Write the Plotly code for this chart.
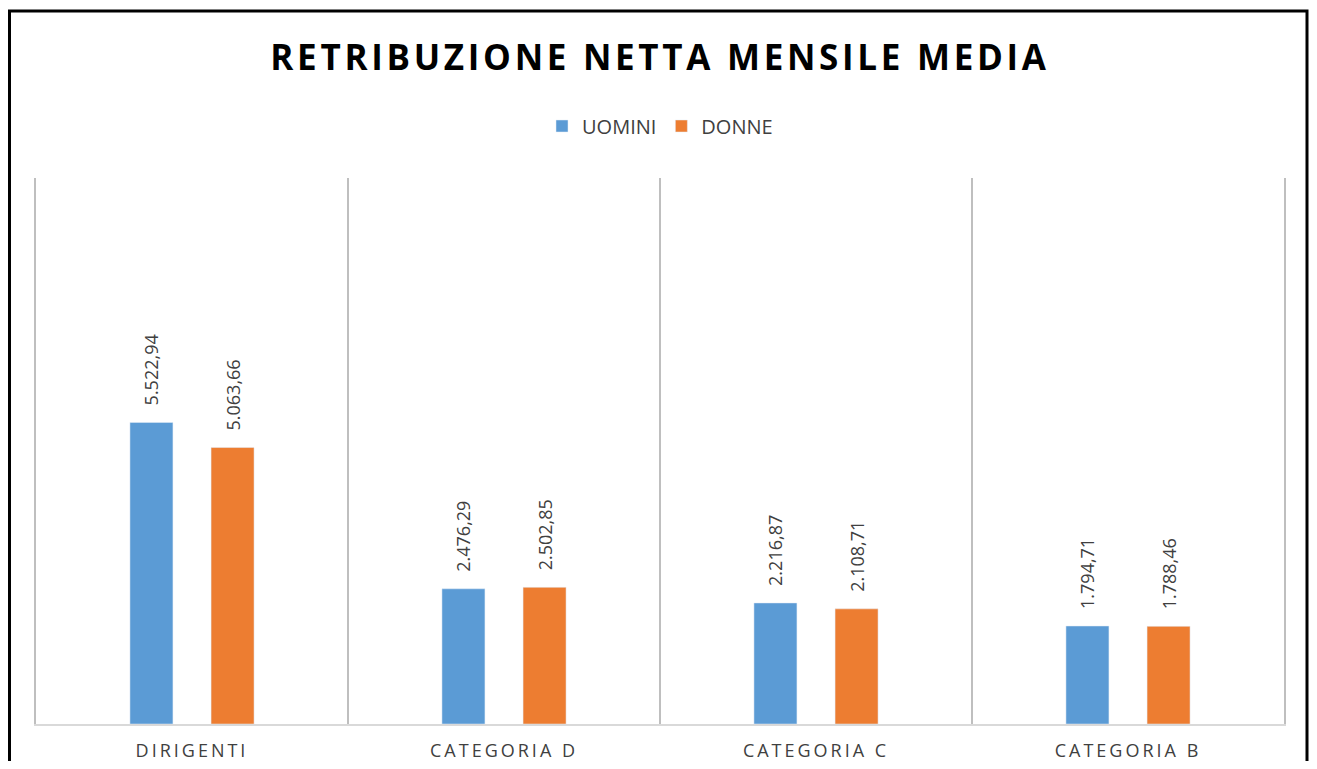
import plotly.graph_objects as go

categories = ["DIRIGENTI", "CATEGORIA D", "CATEGORIA C", "CATEGORIA B"]
uomini = [5522.94, 2476.29, 2216.87, 1794.71]
donne = [5063.66, 2502.85, 2108.71, 1788.46]
series_names = ["UOMINI", "DONNE"]
title_text = "RETRIBUZIONE NETTA MENSILE MEDIA"

BLUE = "#5B9BD5"
ORANGE = "#ED7D31"
TEXT = "#404040"

# page body has an 8px margin on every side; size the figure to fit the window
OFF = 8
W, H = 1317 - 2 * OFF, 769 - 2 * OFF

def spaced(s, px):
    return f'<span style="letter-spacing:{px}px">{s}</span>'

fig = go.Figure()
for name, vals, col in [(series_names[0], uomini, BLUE), (series_names[1], donne, ORANGE)]:
    fig.add_trace(go.Bar(
        x=categories, y=vals, name=name, marker_color=col,
        texttemplate="\u00a0\u00a0\u00a0%{y:,.2f}",
        textposition="outside", textangle=-90,
        constraintext="none",
        textfont=dict(family="Open Sans", size=18, color=TEXT),
        cliponaxis=False,
    ))

pl, pt = 36 - OFF, 178 - OFF
pr = (W + OFF) - 1284
pb = (H + OFF) - 724
pw, ph = W - pl - pr, H - pt - pb

fig.update_layout(
    width=W, height=H,
    paper_bgcolor="white", plot_bgcolor="white",
    separators=",.",
    margin=dict(l=pl, r=pr, t=pt, b=pb, autoexpand=False),
    bargap=0.48, bargroupgap=0.47,
    title=dict(text=spaced(title_text, 3.7), x=0.5, xref="paper", y=1 - (58 - OFF) / H, yanchor="middle",
               font=dict(family="Open Sans", size=35, color="black", weight="bold")),
    legend=dict(orientation="h", x=0.5, xanchor="center", xref="paper", y=1 - (126 - OFF) / H, yref="container",
                yanchor="middle", font=dict(family="Open Sans", size=20, color=TEXT),
                itemwidth=30, traceorder="normal"),
    showlegend=True,
    xaxis=dict(
        tickmode="array", tickvals=categories,
        ticktext=[spaced(c, 3) for c in categories],
        tickson="boundaries", showgrid=True, gridcolor="#BFBFBF", gridwidth=1.5,
        ticks="", showline=True, linecolor="#D9D9D9", linewidth=1.5,
        ticklabelstandoff=10, automargin=False,
        tickfont=dict(family="Open Sans", size=18, color=TEXT),
    ),
    yaxis=dict(range=[0, 10000], showgrid=False, showticklabels=False, zeroline=False,
               automargin=False,
               showline=True, mirror=True, linecolor="#BFBFBF", linewidth=1.5),
    shapes=[dict(type="rect", xref="paper", yref="paper",
                 x0=(9.5 - 36) / pw, x1=(1307 - 36) / pw,
                 y0=-0.3, y1=(724 - 11) / ph,
                 line=dict(color="black", width=3), layer="above")],
)

fig.write_html("out.html")
